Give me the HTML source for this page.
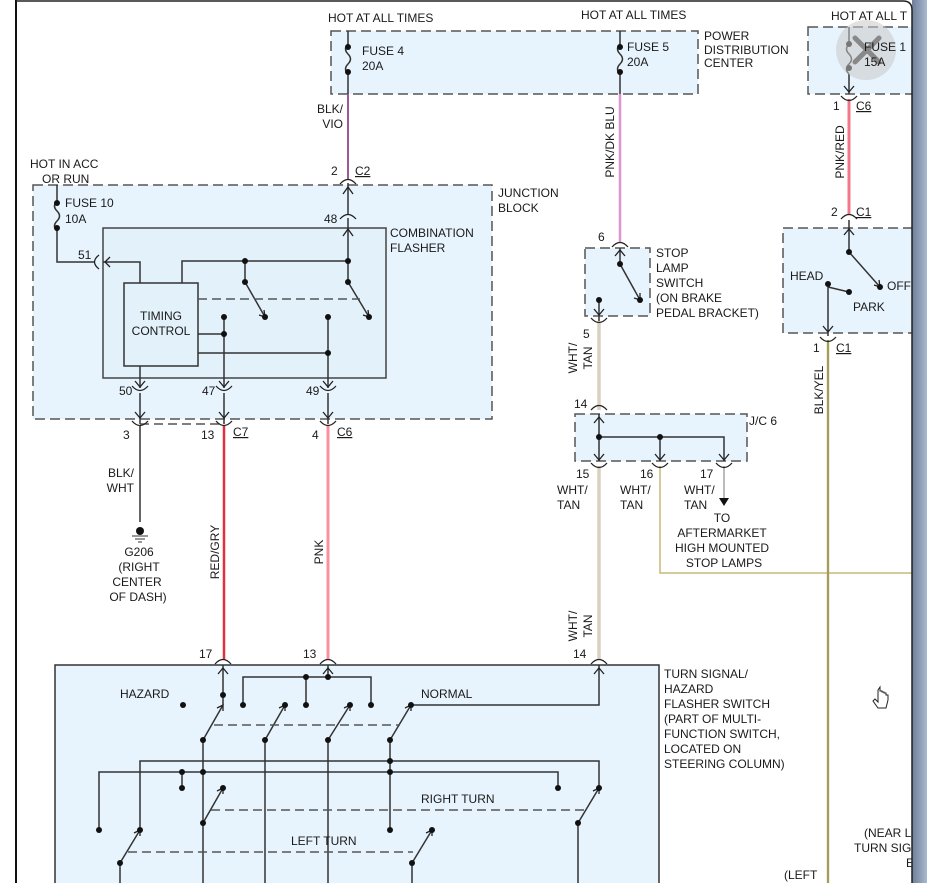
<!DOCTYPE html>
<html><head><meta charset="utf-8"><style>
html,body{margin:0;padding:0;background:#fff;}
svg{display:block;}
text{font-family:"Liberation Sans",sans-serif;font-size:12px;fill:#1a1a1a;}
.u{text-decoration:underline;}
</style></head><body>
<svg width="927" height="883" viewBox="0 0 927 883" xmlns="http://www.w3.org/2000/svg">
<defs>
<linearGradient id="g" x1="0" x2="1"><stop offset="0" stop-color="#6d7f99"/><stop offset="0.5" stop-color="#8c9bb3"/><stop offset="1" stop-color="#a9bad0"/></linearGradient>
</defs>
<rect x="0" y="0" width="927" height="883" fill="#fff"/>
<path d="M16,0 V883" stroke="#111" stroke-width="2"/>

<!-- boxes -->
<g fill="#e8f4fd" stroke="#555" stroke-width="1.5" stroke-dasharray="10,5">
<rect x="331" y="31" width="367" height="63"/>
<rect x="808" y="27" width="110" height="67"/>
<rect x="33" y="185" width="459" height="234"/>
<rect x="585" y="248" width="65" height="68"/>
<rect x="783" y="228" width="135" height="105"/>
<rect x="575" y="414" width="172" height="47"/>
</g>
<rect x="103" y="228" width="283" height="150" fill="#e3f1fb" stroke="#444" stroke-width="1.5"/>
<rect x="124" y="283" width="74" height="83" fill="#e3f1fb" stroke="#333" stroke-width="1.5"/>
<rect x="55" y="665" width="604" height="230" fill="#e8f4fd" stroke="#333" stroke-width="1.5"/>

<!-- colored wires -->
<path d="M348,94 V180" stroke="#d070d0" stroke-width="2"/>
<path d="M348,94 V180" stroke="#222" stroke-width="0.6"/>
<path d="M620,94 V243" stroke="#d48ad8" stroke-width="2.5"/>
<path d="M620,94 V243" stroke="#f0a0b8" stroke-width="1"/>
<path d="M849,99 V215" stroke="#f37788" stroke-width="3"/>
<path d="M224,426 V660" stroke="#e23040" stroke-width="2.5"/>
<path d="M328,426 V660" stroke="#ff8fa0" stroke-width="3"/>
<path d="M599,321 V410 M599,466 V660" stroke="#d9d0c2" stroke-width="3.5"/>
<path d="M660,466 V573 H912" stroke="#c8b878" stroke-width="1.5" fill="none"/>
<path d="M828,340 V883" stroke="#c8c060" stroke-width="2.5"/>
<path d="M828,340 V883" stroke="#666" stroke-width="0.8"/>
<path d="M140,426 V522" stroke="#666" stroke-width="2"/>
<path d="M724,466 V498" stroke="#bbb" stroke-width="2"/>
<path d="M719,498 L729,498 L724,506 Z" fill="#111"/>

<!-- black/gray lines -->
<g stroke="#333" stroke-width="1.5" fill="none">
<path d="M348,31 V45 M348,74 V94 M620,31 V45 M620,74 V94 M849,27 V45 M849,74 V94"/>
<path d="M348,44 q-5,5 0,10 q5,5 0,10 q-5,5 0,10 M620,44 q-5,5 0,10 q5,5 0,10 q-5,5 0,10 M849,44 q-5,5 0,10 q5,5 0,10 q-5,5 0,10 M57,201 q-5,5 0,10 q5,5 0,10 q-5,5 0,10"/>
<path d="M57,185 V201 M57,230 V262 H95"/>
<path d="M348,183 V215 M348,218 V282"/>
<path d="M103,262 H140 V283 M182,283 V261 H348"/>
<path d="M245,261 V282 L265,317 M348,282 L369,317"/>
<path d="M224,317 V388 M328,317 V388 M198,334 H224 M198,353 H328 M140,366 V388"/>
<path d="M140,393 V424 M224,393 V424 M328,393 V424"/>
<path d="M620,248 V264 L640,300 M599,300 V321"/>
<path d="M599,414 V461 M599,437 H724 V461 M660,437 V461"/>
<path d="M849,220 V252 L880,287 M828,287 L849,292 M828,287 V336"/>
<path d="M223,665 V705 M328,665 V677 M243,705 V677 H371 V705 M306,677 V705"/>
<path d="M411,705 H599 V665"/>
<path d="M203,740 L223,705 M265,740 L285,705 M328,740 L350,705 M390,740 L411,705"/>
<path d="M203,740 V883 M265,740 V883 M328,740 V883 M390,740 V830"/>
<path d="M140,830 V761 H599 V788 M99,830 V772 H558 V788 M182,772 V788"/>
<path d="M203,823 L223,788 M578,823 L599,788 M578,823 V883"/>
<path d="M120,863 L140,830 M412,863 L432,830 M120,863 V883 M412,863 V883"/>
</g>
<g stroke="#555" stroke-width="1.5" stroke-dasharray="9,5" fill="none">
<path d="M198,299 H360"/>
<path d="M140,424 H224"/>
<path d="M214,725 H400"/>
<path d="M211,810 H586"/>
<path d="M128,852 H413"/>
</g>

<g stroke="#222" stroke-width="1.3" fill="none">
<path d="M343,194 L348,187 L353,194 M343,236 L348,229 L353,236"/>
<path d="M110,257 L105,262 L110,267"/>
<path d="M135,381 L140,387 L145,381 M219,381 L224,387 L229,381 M323,381 L328,387 L333,381"/>
<path d="M135,412 L140,418 L145,412 M219,412 L224,418 L229,412 M323,412 L328,418 L333,412"/>
<path d="M615,256 L620,250 L625,256 M594,309 L599,315 L604,309"/>
<path d="M594,423 L599,417 L604,423 M594,454 L599,460 L604,454 M655,454 L660,460 L665,454 M719,454 L724,460 L729,454"/>
<path d="M844,86 L849,92 L854,86 M844,235 L849,229 L854,235 M823,326 L828,332 L833,326"/>
<path d="M218,674 L223,668 L228,674 M323,674 L328,668 L333,674 M594,674 L599,668 L604,674"/>
<path d="M259,315 L265,317 L264,310 M363,315 L369,317 L368,310 M634,298 L640,300 L640,293 M874,285 L880,287 L879,280"/>
<path d="M217,708 L223,705 L223,711 M279,708 L285,705 L285,711 M344,708 L350,705 L350,711 M405,708 L411,705 L411,711 M217,791 L223,788 L223,794 M593,791 L599,788 L599,794 M134,833 L140,830 L140,836 M426,833 L432,830 L432,836"/>
</g>
<g stroke="#222" stroke-width="1.3" fill="none">
<path d="M340,184 Q348,175 356,184 M340,219 Q348,210 356,219 M612,247 Q620,238 628,247 M841,219 Q849,210 857,219 M591,410 Q599,401 607,410 M215,664 Q223,655 231,664 M320,664 Q328,655 336,664 M591,664 Q599,655 607,664"/>
<path d="M99,255 Q90,262 99,269"/>
<path d="M132,386 Q140,395 148,386 M216,386 Q224,395 232,386 M320,386 Q328,395 336,386"/>
<path d="M132,421 Q140,430 148,421 M216,421 Q224,430 232,421 M320,421 Q328,430 336,421"/>
<path d="M591,318 Q599,327 607,318 M591,463 Q599,472 607,463 M652,463 Q660,472 668,463 M716,463 Q724,472 732,463 M841,96 Q849,105 857,96 M820,337 Q828,346 836,337"/>
</g>
<g fill="#111">
<circle cx="348" cy="47" r="3"/><circle cx="348" cy="72" r="3"/>
<circle cx="620" cy="47" r="3"/><circle cx="620" cy="72" r="3"/>
<circle cx="57" cy="203" r="3"/><circle cx="57" cy="228" r="3"/>
<circle cx="245" cy="261" r="3"/><circle cx="348" cy="261" r="3"/>
<circle cx="245" cy="282" r="3"/><circle cx="348" cy="282" r="3"/>
<circle cx="265" cy="317" r="3"/><circle cx="369" cy="317" r="3"/>
<circle cx="224" cy="317" r="3"/><circle cx="328" cy="317" r="3"/>
<circle cx="224" cy="334" r="3"/><circle cx="328" cy="353" r="3"/>
<circle cx="620" cy="264" r="3"/><circle cx="640" cy="300" r="3"/><circle cx="599" cy="300" r="3"/>
<circle cx="599" cy="437" r="3"/><circle cx="660" cy="437" r="3"/>
<circle cx="849" cy="252" r="3"/><circle cx="880" cy="287" r="3"/><circle cx="828" cy="284" r="3"/><circle cx="849" cy="292" r="3"/>
<circle cx="140" cy="531" r="4"/>
<circle cx="223" cy="695" r="3"/><circle cx="183" cy="705" r="3"/><circle cx="243" cy="705" r="3"/><circle cx="285" cy="705" r="3"/><circle cx="306" cy="705" r="3"/><circle cx="350" cy="705" r="3"/><circle cx="371" cy="705" r="3"/><circle cx="411" cy="705" r="3"/>
<circle cx="306" cy="677" r="3"/><circle cx="328" cy="677" r="3"/>
<circle cx="203" cy="740" r="3"/><circle cx="265" cy="740" r="3"/><circle cx="328" cy="740" r="3"/><circle cx="390" cy="740" r="3"/>
<circle cx="390" cy="761" r="3"/><circle cx="390" cy="772" r="3"/><circle cx="182" cy="772" r="3"/><circle cx="203" cy="772" r="3"/>
<circle cx="182" cy="788" r="3"/><circle cx="223" cy="788" r="3"/><circle cx="558" cy="788" r="3"/><circle cx="599" cy="788" r="3"/>
<circle cx="203" cy="823" r="3"/><circle cx="578" cy="823" r="3"/>
<circle cx="99" cy="830" r="3"/><circle cx="140" cy="830" r="3"/><circle cx="390" cy="830" r="3"/><circle cx="432" cy="830" r="3"/>
<circle cx="120" cy="863" r="3"/><circle cx="412" cy="863" r="3"/>
</g>
<path d="M132,536 H148 M135,539 H145 M138,542 H142" stroke="#333" stroke-width="1"/>

<circle cx="866" cy="50" r="30" fill="#c8c8c8" opacity="0.55"/>
<path d="M855,38 L879,62 M879,38 L855,62" stroke="#888" stroke-width="5" stroke-linecap="round"/>
<circle cx="849" cy="44" r="3" fill="#777"/><circle cx="849" cy="68" r="3" fill="#777"/>

<text x="328" y="22">HOT AT ALL TIMES</text>
<text x="581" y="19">HOT AT ALL TIMES</text>
<text x="831" y="20">HOT AT ALL T</text>
<text x="362" y="55">FUSE 4</text><text x="362" y="70">20A</text>
<text x="627" y="51">FUSE 5</text><text x="627" y="66">20A</text>
<text x="864" y="51" fill="#777">FUSE 1</text><text x="864" y="66" fill="#777">15A</text>
<text x="704" y="40">POWER</text><text x="704" y="54">DISTRIBUTION</text><text x="704" y="67">CENTER</text>
<text x="343" y="113" text-anchor="end">BLK/</text><text x="343" y="128" text-anchor="end">VIO</text>
<text x="331" y="175">2</text><text x="355" y="175" class="u">C2</text>
<text x="30" y="168">HOT IN ACC</text><text x="42" y="183">OR RUN</text>
<text x="498" y="197">JUNCTION</text><text x="498" y="212">BLOCK</text>
<text x="65" y="207">FUSE 10</text><text x="65" y="223">10A</text>
<text x="324" y="223">48</text>
<text x="390" y="237">COMBINATION</text><text x="390" y="252">FLASHER</text>
<text x="78" y="259">51</text>
<text x="161" y="320" text-anchor="middle">TIMING</text><text x="161" y="335" text-anchor="middle">CONTROL</text>
<text x="119" y="395">50</text><text x="202" y="395">47</text><text x="306" y="395">49</text>
<text x="123" y="439">3</text><text x="201" y="439">13</text><text x="233" y="436" class="u">C7</text>
<text x="312" y="439">4</text><text x="337" y="436" class="u">C6</text>
<text x="134" y="477" text-anchor="end">BLK/</text><text x="134" y="492" text-anchor="end">WHT</text>
<text x="139" y="556" text-anchor="middle">G206</text><text x="139" y="571" text-anchor="middle">(RIGHT</text><text x="137" y="586" text-anchor="middle">CENTER</text><text x="138" y="601" text-anchor="middle">OF DASH)</text>
<text transform="translate(219,552) rotate(-90)" text-anchor="middle">RED/GRY</text>
<text transform="translate(323,552) rotate(-90)" text-anchor="middle">PNK</text>
<text transform="translate(614,142) rotate(-90)" text-anchor="middle">PNK/DK BLU</text>
<text transform="translate(844,152) rotate(-90)" text-anchor="middle">PNK/RED</text>
<text transform="translate(823,390) rotate(-90)" text-anchor="middle">BLK/YEL</text>
<text transform="translate(577,358) rotate(-90)" text-anchor="middle">WHT/</text><text transform="translate(592,358) rotate(-90)" text-anchor="middle">TAN</text>
<text transform="translate(577,626) rotate(-90)" text-anchor="middle">WHT/</text><text transform="translate(592,626) rotate(-90)" text-anchor="middle">TAN</text>
<text x="598" y="241">6</text><text x="583" y="338">5</text>
<text x="656" y="257">STOP</text><text x="656" y="272">LAMP</text><text x="656" y="287">SWITCH</text><text x="656" y="302">(ON BRAKE</text><text x="656" y="317">PEDAL BRACKET)</text>
<text x="833" y="110">1</text><text x="856" y="110" class="u">C6</text>
<text x="831" y="216">2</text><text x="856" y="216" class="u">C1</text>
<text x="790" y="280">HEAD</text><text x="887" y="290">OFF</text><text x="853" y="311">PARK</text>
<text x="813" y="352">1</text><text x="836" y="352" class="u">C1</text>
<text x="574" y="408">14</text><text x="749" y="425">J/C 6</text>
<text x="576" y="478">15</text><text x="640" y="478">16</text><text x="700" y="478">17</text>
<text x="557" y="494">WHT/</text><text x="557" y="509">TAN</text>
<text x="620" y="494">WHT/</text><text x="620" y="509">TAN</text>
<text x="684" y="494">WHT/</text><text x="684" y="509">TAN</text>
<text x="722" y="522" text-anchor="middle">TO</text><text x="722" y="537" text-anchor="middle">AFTERMARKET</text><text x="722" y="552" text-anchor="middle">HIGH MOUNTED</text><text x="724" y="567" text-anchor="middle">STOP LAMPS</text>
<text x="199" y="658">17</text><text x="303" y="658">13</text><text x="573" y="658">14</text>
<text x="664" y="678">TURN SIGNAL/</text><text x="664" y="693">HAZARD</text><text x="664" y="708">FLASHER SWITCH</text><text x="664" y="723">(PART OF MULTI-</text><text x="664" y="738">FUNCTION SWITCH,</text><text x="664" y="753">LOCATED ON</text><text x="664" y="768">STEERING COLUMN)</text>
<text x="120" y="698">HAZARD</text><text x="421" y="698">NORMAL</text>
<text x="421" y="803">RIGHT TURN</text><text x="291" y="845">LEFT TURN</text>
<text x="864" y="837">(NEAR L</text><text x="854" y="852">TURN SIG</text><text x="906" y="867">E</text>
<text x="784" y="879">(LEFT</text>
<path d="M878,690 v12 l-3,-3 l-2,2 l5,7 h8 l2,-8 v-5 h-2 v-2 h-2 v-1 h-2 v-1 h-2 v-4 z" fill="#fff" stroke="#222" stroke-width="1"/>

<!-- page frame on top -->
<rect x="912" y="0" width="15" height="883" fill="url(#g)"/>
<path d="M16,1 H903 Q912,1 912,10 V883" stroke="#222" stroke-width="1.5" fill="none"/>
</svg>
</body></html>
